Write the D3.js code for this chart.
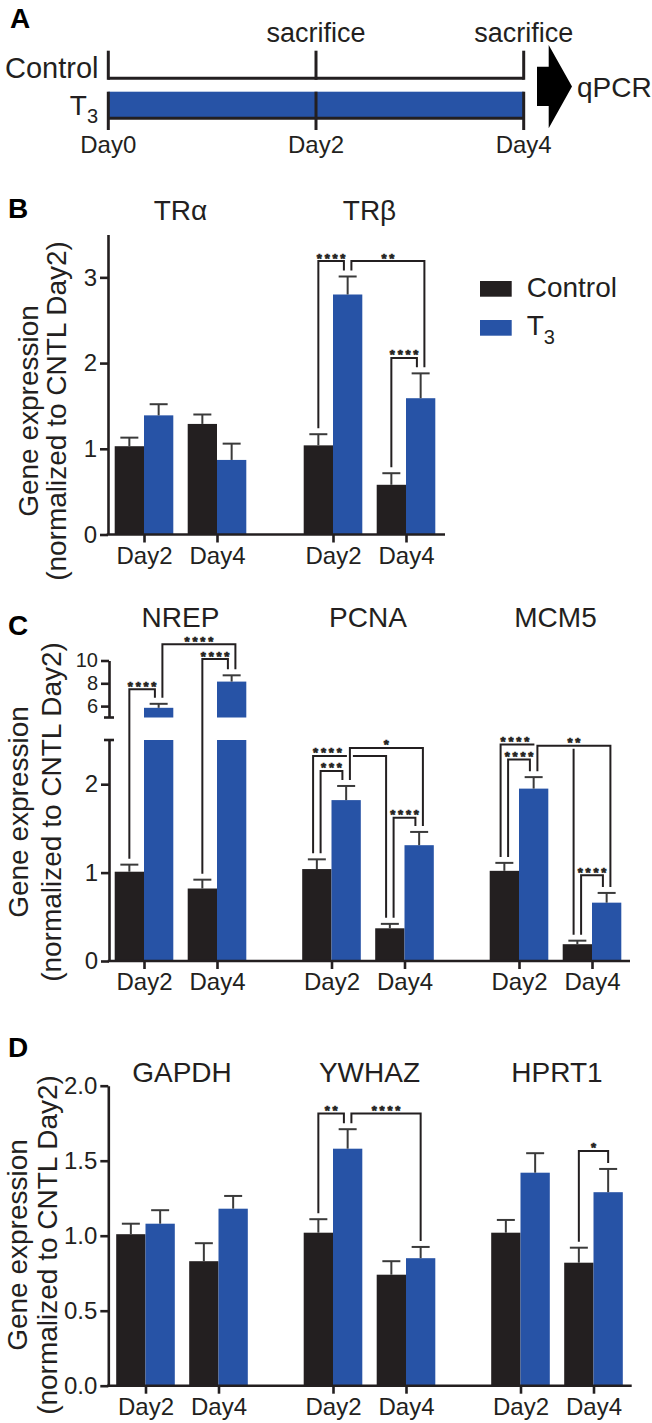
<!DOCTYPE html>
<html>
<head>
<meta charset="utf-8">
<script src="https://cdn.jsdelivr.net/npm/d3@7"></script>
<style>
html, body { margin: 0; padding: 0; background: #fff; }
svg { display: block; }
</style>
</head>
<body>
<svg id="fig" width="652" height="1423"></svg>
<script>
// ================= DATA =================
// Panel A (timeline)
const timelineDays = [0, 2, 4];
const timelineLabels = ["Day0", "Day2", "Day4"];
const sacrificeDays = [2, 4];

const seriesNames = ["Control", "T3"];
const dayLabels = ["Day2", "Day4"];

// Panel B  (values ordered gene-major: g1 Day2, g1 Day4, g2 Day2, g2 Day4)
const genesB = ["TRα", "TRβ"];
const yTicksB = [0, 1, 2, 3];
const controlB = [1.03, 1.29, 1.04, 0.58];
const controlSemB = [0.10, 0.11, 0.13, 0.135];
const t3B = [1.39, 0.87, 2.80, 1.59];
const t3SemB = [0.13, 0.19, 0.21, 0.29];
const bracketsB = [
  ["TRβ", "Day2", "Control", "TRβ", "Day2", "T3", 3.19, "****"],
  ["TRβ", "Day2", "T3", "TRβ", "Day4", "T3", 3.19, "**"],
  ["TRβ", "Day4", "Control", "TRβ", "Day4", "T3", 2.06, "****"]
];

// Panel C
const genesC = ["NREP", "PCNA", "MCM5"];
const yTicksCLow = [0, 1, 2];
const yTicksCHigh = [6, 8, 10];
const controlC = [1.01, 0.82, 1.04, 0.37, 1.02, 0.19];
const controlSemC = [0.08, 0.10, 0.11, 0.05, 0.09, 0.04];
const t3C = [5.85, 8.15, 1.82, 1.31, 1.95, 0.66];
const t3SemC = [0.35, 0.55, 0.16, 0.15, 0.13, 0.11];
const bracketsC = [
  ["NREP", "Day2", "Control", "NREP", "Day2", "T3", 7.47, "****"],
  ["NREP", "Day2", "T3", "NREP", "Day4", "T3", 11.42, "****"],
  ["NREP", "Day4", "Control", "NREP", "Day4", "T3", 10.13, "****"],
  ["PCNA", "Day2", "Control", "PCNA", "Day4", "Control", 2.32, "****", "start"],
  ["PCNA", "Day2", "Control", "PCNA", "Day2", "T3", 2.15, "***"],
  ["PCNA", "Day2", "T3", "PCNA", "Day4", "T3", 2.41, "*"],
  ["PCNA", "Day4", "Control", "PCNA", "Day4", "T3", 1.62, "****"],
  ["MCM5", "Day2", "Control", "MCM5", "Day4", "Control", 2.45, "****", "start"],
  ["MCM5", "Day2", "Control", "MCM5", "Day2", "T3", 2.28, "****"],
  ["MCM5", "Day2", "T3", "MCM5", "Day4", "T3", 2.53, "**"],
  ["MCM5", "Day4", "Control", "MCM5", "Day4", "T3", 0.97, "****"]
];

// Panel D
const genesD = ["GAPDH", "YWHAZ", "HPRT1"];
const yTicksD = [0, 0.5, 1.0, 1.5, 2.0];
const controlD = [1.01, 0.83, 1.02, 0.74, 1.02, 0.82];
const controlSemD = [0.07, 0.12, 0.09, 0.09, 0.085, 0.10];
const t3D = [1.08, 1.18, 1.58, 0.85, 1.42, 1.29];
const t3SemD = [0.09, 0.085, 0.13, 0.075, 0.13, 0.155];
const bracketsD = [
  ["YWHAZ", "Day2", "Control", "YWHAZ", "Day2", "T3", 1.815, "**"],
  ["YWHAZ", "Day2", "T3", "YWHAZ", "Day4", "T3", 1.815, "****"],
  ["HPRT1", "Day4", "Control", "HPRT1", "Day4", "T3", 1.565, "*"]
];

// ================= STYLE =================
const FONT = '"Liberation Sans", Arial, Helvetica, sans-serif';
const BLACK = "#231f20";
const BLUE = "#2753a6";
const ERR = "#3a3a3a";
const color = s => s === "Control" ? BLACK : BLUE;

const svg = d3.select("#fig").attr("font-family", FONT);

const xSeries = d3.scaleBand().domain(seriesNames).range([-29.3, 29.3]).padding(0);
const xDay = d3.scalePoint().domain(dayLabels).range([-36.5, 36.5]);

function styleAxis(a, fs) {
  a.attr("font-family", FONT);
  a.selectAll("path.domain").attr("stroke", BLACK).attr("stroke-width", 2.6);
  a.selectAll(".tick line").attr("stroke", BLACK).attr("stroke-width", 2.6);
  a.selectAll(".tick text").attr("font-size", fs || 24).attr("fill", BLACK);
}

function yAxis(g, scale, ticks, x, fmt, fs) {
  const ax = d3.axisLeft(scale).tickValues(ticks).tickSize(8).tickSizeOuter(0).tickPadding(3)
    .tickFormat(fmt);
  const a = g.append("g").attr("transform", `translate(${x},0)`).call(ax);
  styleAxis(a, fs);
  return a;
}

function xAxis(g, xGene, genes, x0, x1, y0) {
  const keys = genes.flatMap(ge => dayLabels.map(d => ge + "|" + d));
  const sc = d3.scaleOrdinal().domain(keys)
    .range(keys.map(k => { const p = k.split("|"); return xGene(p[0]) + xDay(p[1]); }));
  const ax = d3.axisBottom(sc).tickSize(8).tickSizeOuter(0).tickPadding(4)
    .tickFormat(k => k.split("|")[1]);
  const a = g.append("g").attr("transform", `translate(0,${y0})`).call(ax);
  a.select(".domain").remove();
  a.append("line").attr("x1", x0 - 1.3).attr("x2", x1).attr("y1", 0).attr("y2", 0)
    .attr("stroke", BLACK).attr("stroke-width", 2.6);
  styleAxis(a);
}

function axisTitle(g, x1, x2, yc) {
  g.append("text").attr("transform", `translate(${x1},${yc}) rotate(-90)`)
    .attr("text-anchor", "middle").attr("font-size", 28).attr("fill", BLACK)
    .text("Gene expression");
  g.append("text").attr("transform", `translate(${x2},${yc}) rotate(-90)`)
    .attr("text-anchor", "middle").attr("font-size", 28).attr("fill", BLACK)
    .text("(normalized to CNTL Day2)");
}

function panelLetter(x, y, t) {
  svg.append("text").attr("x", x).attr("y", y).attr("font-size", 28)
    .attr("font-weight", "bold").attr("fill", "#000").text(t);
}

function geneTitles(g, genes, xGene, y) {
  g.selectAll("text.title").data(genes).join("text").attr("class", "title")
    .attr("x", d => xGene(d)).attr("y", y).attr("text-anchor", "middle")
    .attr("font-size", 28).attr("fill", BLACK).text(d => d);
}

function drawBars(g, genes, ctrl, ctrlSem, t3, t3Sem, xGene, y, segments, brackets) {
  const rows = [];
  genes.forEach((ge, i) => dayLabels.forEach((d, j) => {
    rows.push({ gene: ge, day: d, series: "Control", mean: ctrl[2 * i + j], sem: ctrlSem[2 * i + j] });
    rows.push({ gene: ge, day: d, series: "T3", mean: t3[2 * i + j], sem: t3Sem[2 * i + j] });
  }));
  const bw = xSeries.bandwidth();
  const bx = r => xGene(r.gene) + xDay(r.day) + xSeries(r.series);
  const cx = r => bx(r) + bw / 2;

  const segs = rows.flatMap(r => segments(r.mean).map(s => ({ r, lo: s[0], hi: s[1] })));
  g.selectAll("rect.bar").data(segs).join("rect").attr("class", "bar")
    .attr("x", d => bx(d.r)).attr("width", bw)
    .attr("y", d => y(d.hi)).attr("height", d => y(d.lo) - y(d.hi))
    .attr("fill", d => color(d.r.series));

  // error bars (upper only)
  const eg = g.append("g").attr("stroke", ERR).attr("stroke-width", 2);
  eg.selectAll("line.ev").data(rows).join("line")
    .attr("x1", cx).attr("x2", cx)
    .attr("y1", r => y(r.mean)).attr("y2", r => y(r.mean + r.sem));
  eg.selectAll("line.ec").data(rows).join("line")
    .attr("x1", r => cx(r) - 9).attr("x2", r => cx(r) + 9)
    .attr("y1", r => y(r.mean + r.sem)).attr("y2", r => y(r.mean + r.sem));

  // significance brackets
  const byKey = new Map(rows.map(r => [r.gene + "|" + r.day + "|" + r.series, r]));
  const br = brackets.map(b => ({
    a: byKey.get(b[0] + "|" + b[1] + "|" + b[2]),
    b: byKey.get(b[3] + "|" + b[4] + "|" + b[5]),
    level: b[6], label: b[7], align: b[8] || "middle"
  }));
  const ends = new Map();
  br.forEach(b => {
    const span = Math.abs(cx(b.b) - cx(b.a));
    [[b.a, "depart", "oa"], [b.b, "arrive", "ob"]].forEach(([r, role, prop]) => {
      if (!ends.has(r)) ends.set(r, []);
      ends.get(r).push({ b, role, span, prop });
    });
  });
  ends.forEach(list => {
    list.sort((p, q) => {
      if (p.role !== q.role) return p.role === "arrive" ? -1 : 1;
      return p.role === "arrive" ? p.span - q.span : q.span - p.span;
    });
    list.forEach((e, i) => { e.b[e.prop] = (i - (list.length - 1) / 2) * 7.5; });
  });
  const bg = g.append("g").attr("fill", "none");
  br.forEach(b => {
    b.xa = cx(b.a) + b.oa; b.xb = cx(b.b) + b.ob;
    const ya = y(b.a.mean + b.a.sem) - 6, yb = y(b.b.mean + b.b.sem) - 6, yl = y(b.level);
    const p = d3.path();
    p.moveTo(b.xa, ya); p.lineTo(b.xa, yl); p.lineTo(b.xb, yl); p.lineTo(b.xb, yb);
    bg.append("path").attr("d", p.toString()).attr("stroke", "#fff").attr("stroke-width", 6);
    bg.append("path").attr("d", p.toString()).attr("stroke", BLACK).attr("stroke-width", 2);
  });
  g.selectAll("text.star").data(br).join("text").attr("class", "star")
    .attr("x", b => b.align === "start" ? b.xa : (b.xa + b.xb) / 2 + 1.4)
    .attr("y", b => y(b.level) + 1.5)
    .attr("text-anchor", b => b.align)
    .attr("font-size", 13).attr("font-weight", "bold")
    .attr("letter-spacing", 2.8)
    .attr("fill", BLACK).attr("stroke", BLACK).attr("stroke-width", 0.7)
    .text(b => b.label);
}

// ================= PANEL A =================
const gA = svg.append("g");
const xT = d3.scaleLinear().domain([0, 4]).range([108.3, 523.7]);
panelLetter(10, 28, "A");
gA.selectAll("text.sac").data(sacrificeDays).join("text").attr("class", "sac")
  .attr("x", d => xT(d)).attr("y", 41.7).attr("text-anchor", "middle")
  .attr("font-size", 27).attr("fill", BLACK).text("sacrifice");
gA.append("line").attr("x1", xT(0)).attr("x2", xT(4)).attr("y1", 78.3).attr("y2", 78.3)
  .attr("stroke", BLACK).attr("stroke-width", 3);
gA.selectAll("line.ct").data(timelineDays).join("line").attr("class", "ct")
  .attr("x1", d => xT(d)).attr("x2", d => xT(d)).attr("y1", 50.7).attr("y2", 79.8)
  .attr("stroke", BLACK).attr("stroke-width", 3);
gA.append("rect").attr("x", xT(0)).attr("width", xT(4) - xT(0)).attr("y", 91.7).attr("height", 26.6)
  .attr("fill", BLUE);
gA.append("line").attr("x1", xT(0)).attr("x2", xT(4)).attr("y1", 118.3).attr("y2", 118.3)
  .attr("stroke", BLACK).attr("stroke-width", 3);
gA.selectAll("line.tt").data(timelineDays).join("line").attr("class", "tt")
  .attr("x1", d => xT(d)).attr("x2", d => xT(d)).attr("y1", 91.7).attr("y2", 130)
  .attr("stroke", BLACK).attr("stroke-width", 3);
gA.append("text").attr("x", 98.5).attr("y", 78.3).attr("text-anchor", "end")
  .attr("font-size", 29).attr("fill", BLACK).text("Control");
const t3A = gA.append("text").attr("x", 98).attr("y", 115).attr("text-anchor", "end")
  .attr("font-size", 28).attr("fill", BLACK);
t3A.append("tspan").text("T");
t3A.append("tspan").attr("font-size", 20).attr("dy", 8).text("3");
gA.selectAll("text.dl").data(timelineDays).join("text").attr("class", "dl")
  .attr("x", d => xT(d)).attr("y", 153).attr("text-anchor", "middle")
  .attr("font-size", 24).attr("fill", BLACK).text((d, i) => timelineLabels[i]);
gA.append("path")
  .attr("d", "M537,66.7 L548.7,66.7 L548.7,45 L572,86.5 L548.7,128.3 L548.7,106 L537,106 Z")
  .attr("fill", "#000");
gA.append("text").attr("x", 577).attr("y", 96.7).attr("font-size", 28).attr("fill", BLACK).text("qPCR");

// ================= PANEL B =================
const gB = svg.append("g");
panelLetter(8, 218, "B");
const xGeneB = d3.scalePoint().domain(genesB).range([180.5, 369.5]);
const yB = d3.scaleLinear().domain([0, 3.5]).range([534.5, 234.5]);
geneTitles(gB, genesB, xGeneB, 220);
drawBars(gB, genesB, controlB, controlSemB, t3B, t3SemB, xGeneB, yB, v => [[0, v]], bracketsB);
yAxis(gB, yB, yTicksB, 108, d3.format("d"));
xAxis(gB, xGeneB, genesB, 108, 445, 534.5);
axisTitle(gB, 38, 66, 411);
// legend
const lg = gB.append("g");
lg.selectAll("rect").data(seriesNames).join("rect")
  .attr("x", 480).attr("y", (d, i) => 281 + i * 39).attr("width", 31.7).attr("height", 15.7)
  .attr("fill", d => color(d));
lg.append("text").attr("x", 526.7).attr("y", 296.7).attr("font-size", 28).attr("fill", BLACK).text(seriesNames[0]);
const lgT3 = lg.append("text").attr("x", 526.7).attr("y", 335).attr("font-size", 28).attr("fill", BLACK);
lgT3.append("tspan").text("T");
lgT3.append("tspan").attr("font-size", 20).attr("dy", 9).text("3");

// ================= PANEL C =================
const gC = svg.append("g");
panelLetter(8, 635, "C");
const xGeneC = d3.scalePoint().domain(genesC).range([180.5, 555.5]);
const yCLow = d3.scaleLinear().domain([0, 2.5]).range([961, 740]);
const yCHigh = d3.scaleLinear().domain([5, 10]).range([717.5, 660.5]);
const yC = v => v <= 2.5 ? yCLow(v) : yCHigh(v);
geneTitles(gC, genesC, xGeneC, 627);
drawBars(gC, genesC, controlC, controlSemC, t3C, t3SemC, xGeneC, yC,
  v => v > 5 ? [[0, 2.5], [5, v]] : [[0, v]], bracketsC);
yAxis(gC, yCLow, yTicksCLow, 109, d3.format("d"));
yAxis(gC, yCHigh, yTicksCHigh, 109, d3.format("d"), 20);
gC.selectAll("line.brk").data([yCHigh(5), yCLow(2.5)]).join("line").attr("class", "brk")
  .attr("x1", 104).attr("x2", 114).attr("y1", d => d).attr("y2", d => d)
  .attr("stroke", BLACK).attr("stroke-width", 2.6);
xAxis(gC, xGeneC, genesC, 109, 630, 961);
axisTitle(gC, 28, 61, 812);

// ================= PANEL D =================
const gD = svg.append("g");
panelLetter(8, 1056.7, "D");
const xGeneD = d3.scalePoint().domain(genesD).range([182, 557]);
const yD = d3.scaleLinear().domain([0, 2]).range([1385.7, 1085.7]);
geneTitles(gD, genesD, xGeneD, 1082);
drawBars(gD, genesD, controlD, controlSemD, t3D, t3SemD, xGeneD, yD, v => [[0, v]], bracketsD);
yAxis(gD, yD, yTicksD, 108.3, d3.format(".1f"));
xAxis(gD, xGeneD, genesD, 108.3, 631.7, 1385.7);
axisTitle(gD, 27, 57, 1245);
</script>
</body>
</html>
